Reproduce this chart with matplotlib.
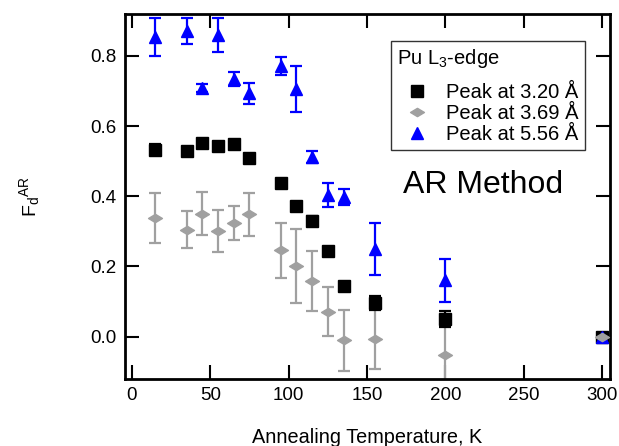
import matplotlib
matplotlib.use("Agg")
import matplotlib.pyplot as plt
from matplotlib.path import Path
import numpy as np

plt.rcParams['font.family'] = ['Liberation Sans', 'DejaVu Sans']
plt.rcParams['mathtext.fontset'] = 'custom'
plt.rcParams['mathtext.rm'] = 'Liberation Sans'
plt.rcParams['mathtext.it'] = 'Liberation Sans'

# Peak at 3.20 Å
t_320 = [15, 35, 45, 55, 65, 75, 95, 105, 115, 125, 135, 155, 200, 300]
y_320 = [0.533, 0.529, 0.553, 0.544, 0.548, 0.508, 0.438, 0.372, 0.329, 0.243, 0.144, 0.095, 0.050, 0.0]
e_320 = [0.015, 0.008, 0.010, 0.010, 0.008, 0.010, 0.008, 0.010, 0.015, 0.008, 0.010, 0.020, 0.022, 0.010]

# Peak at 3.69 Å
t_369 = [15, 35, 45, 55, 65, 75, 95, 105, 115, 125, 135, 155, 200, 300]
y_369 = [0.339, 0.305, 0.350, 0.301, 0.324, 0.349, 0.246, 0.201, 0.158, 0.071, -0.011, -0.007, -0.052, 0.0]
e_369 = [0.071, 0.053, 0.061, 0.060, 0.049, 0.061, 0.078, 0.105, 0.085, 0.070, 0.088, 0.085, 0.085, 0.005]

# Peak at 5.56 Å
t_556 = [15, 35, 45, 55, 65, 75, 95, 105, 115, 125, 135, 155, 200, 300]
y_556 = [0.854, 0.870, 0.708, 0.860, 0.734, 0.693, 0.772, 0.705, 0.512, 0.403, 0.398, 0.250, 0.160, 0.0]
e_556 = [0.053, 0.037, 0.012, 0.048, 0.020, 0.030, 0.025, 0.065, 0.018, 0.035, 0.023, 0.074, 0.061, 0.005]

x_ticks = [0, 50, 100, 150, 200, 250, 300]
y_ticks = [0.0, 0.2, 0.4, 0.6, 0.8]

fig = plt.figure(figsize=(6.19, 4.46), dpi=100)
ax = fig.add_axes([0.202, 0.151, 0.783, 0.818])

diamond = Path([(-1, 0), (0, 0.6), (1, 0), (0, -0.6), (-1, 0)],
               [Path.MOVETO, Path.LINETO, Path.LINETO, Path.LINETO, Path.CLOSEPOLY])

blue = '#0000ff'
gray = '#a0a0a0'

h1 = ax.errorbar(t_320, y_320, yerr=e_320, fmt='s', color='black', ms=8.5,
                 elinewidth=1.6, capsize=4.5, capthick=1.6, label='Peak at 3.20 Å', zorder=3)
h2 = ax.errorbar(t_369, y_369, yerr=e_369, fmt='none', ecolor=gray,
                 elinewidth=1.6, capsize=4.5, capthick=1.6, zorder=2)
h2m, = ax.plot(t_369, y_369, linestyle='none', marker=diamond, color=gray, ms=10,
               label='Peak at 3.69 Å', zorder=4)
h3 = ax.errorbar(t_556, y_556, yerr=e_556, fmt='^', color=blue, ms=9,
                 elinewidth=1.6, capsize=4.5, capthick=1.6, label='Peak at 5.56 Å', zorder=3)

ax.set_xlim(-4.3, 304.7)
ax.set_ylim(-0.12, 0.92)
ax.set_xticks(x_ticks)
ax.set_yticks(y_ticks)
ax.set_yticklabels([f'{v:.1f}' for v in y_ticks])
ax.tick_params(direction='in', length=10, width=1.5, top=True, right=True,
               labelsize=13.5, pad=6)
for s in ax.spines.values():
    s.set_linewidth(2)

ax.set_xlabel('Annealing Temperature, K', fontsize=14.3)
ax.xaxis.set_label_coords(0.5, -0.135)
ax.set_ylabel(r'F$_\mathrm{d}$$^\mathrm{AR}$', fontsize=14)
ax.yaxis.set_label_coords(-0.172, 0.5)

fs_leg = 14.5
lsp = 0.1
leg = ax.legend([h1[0], h2m, h3[0]], ['Peak at 3.20 Å', 'Peak at 3.69 Å', 'Peak at 5.56 Å'],
                title=r'Pu L$_3$-edge', loc='upper right', bbox_to_anchor=(0.948, 0.926),
                borderaxespad=0,
                fancybox=False, edgecolor='black', fontsize=fs_leg, title_fontsize=fs_leg,
                handletextpad=0.4, borderpad=0.3, labelspacing=lsp, handlelength=2.05)
leg._legend_box.align = 'left'
leg._legend_box.sep = lsp * fs_leg + 8
leg.get_frame().set_linewidth(1.0)

ax.text(0.738, 0.53, 'AR Method', transform=ax.transAxes, fontsize=23,
        ha='center', va='center')

fig.savefig('out.png', dpi=100)
